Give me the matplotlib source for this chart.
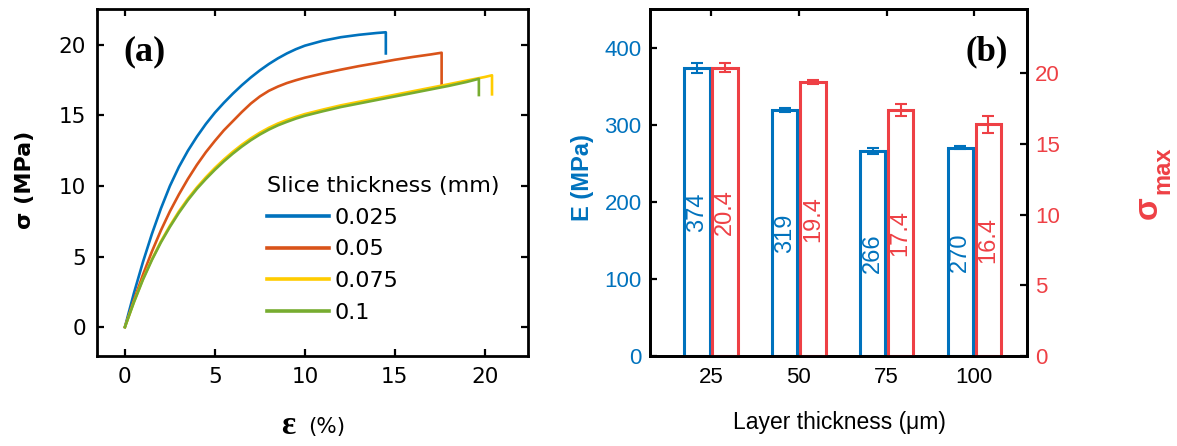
import matplotlib.pyplot as plt
import numpy as np

# (a) stress-strain curves
blue_x = [0, 0.5, 1.0, 1.5, 2.0, 2.5, 3.0, 3.5, 4.0, 4.5, 5.0, 5.5, 6.0, 6.5, 7.0, 7.5,
          8.0, 8.5, 9.0, 9.5, 10, 11, 12, 13, 14, 14.5, 14.5]
blue_y = [0, 2.4, 4.6, 6.6, 8.4, 10.0, 11.35, 12.5, 13.5, 14.4, 15.2, 15.9, 16.55, 17.15,
          17.7, 18.2, 18.65, 19.05, 19.4, 19.7, 19.95, 20.3, 20.55, 20.72, 20.85, 20.9, 19.4]
red_x = [0, 0.5, 1.0, 1.5, 2.0, 2.5, 3.0, 3.5, 4.0, 4.5, 5.0, 5.5, 6.0, 6.5, 7.0, 7.5,
         8.0, 8.5, 9.0, 9.5, 10, 11, 12, 13, 14, 15, 16, 17, 17.6, 17.6]
red_y = [0, 1.9, 3.7, 5.35, 6.85, 8.2, 9.4, 10.5, 11.5, 12.4, 13.2, 13.95, 14.6, 15.25,
         15.85, 16.35, 16.75, 17.05, 17.3, 17.5, 17.68, 17.98, 18.25, 18.5, 18.72, 18.95,
         19.15, 19.33, 19.45, 17.2]
yellow_x = [0, 0.5, 1.0, 1.5, 2.0, 2.5, 3.0, 3.5, 4.0, 4.5, 5.0, 5.5, 6.0, 6.5, 7.0, 7.5,
            8.0, 8.5, 9.0, 9.5, 10, 11, 12, 13, 14, 15, 16, 17, 18, 19, 20, 20.4, 20.4]
yellow_y = [0, 1.78, 3.4, 4.8, 6.07, 7.18, 8.2, 9.1, 9.9, 10.62, 11.28, 11.88, 12.43, 12.93,
            13.38, 13.78, 14.13, 14.43, 14.68, 14.9, 15.1, 15.42, 15.72, 15.97, 16.22, 16.47,
            16.72, 16.97, 17.22, 17.48, 17.73, 17.85, 16.5]
green_x = [0, 0.5, 1.0, 1.5, 2.0, 2.5, 3.0, 3.5, 4.0, 4.5, 5.0, 5.5, 6.0, 6.5, 7.0, 7.5,
           8.0, 8.5, 9.0, 9.5, 10, 11, 12, 13, 14, 15, 16, 17, 18, 19, 19.67, 19.67]
green_y = [0, 1.75, 3.35, 4.75, 6.0, 7.1, 8.1, 9.0, 9.8, 10.5, 11.15, 11.75, 12.3, 12.8,
           13.25, 13.65, 14.0, 14.3, 14.55, 14.78, 14.98, 15.3, 15.6, 15.85, 16.1, 16.35,
           16.6, 16.85, 17.1, 17.38, 17.6, 16.45]
slice_labels = ['0.025', '0.05', '0.075', '0.1']

# (b) modulus and max stress vs layer thickness
layers = [25, 50, 75, 100]
E_vals = [374, 319, 266, 270]
E_err = [6.5, 2, 4, 2]
S_vals = [20.4, 19.4, 17.4, 16.4]
S_err = [0.33, 0.15, 0.45, 0.6]

c_blue = '#0072BD'
c_orange = '#D95319'
c_yellow = '#FFCC00'
c_green = '#77AC30'
b_blue = '#0072BD'
b_red = '#EE4045'

W, H = 1177, 446
fig = plt.figure(figsize=(W / 100, H / 100), dpi=100)

ax1 = fig.add_axes([97 / W, 1 - 356 / H, (528 - 97) / W, (356 - 9) / H])
ax2 = fig.add_axes([650 / W, 1 - 356 / H, (1027 - 650) / W, (356 - 9) / H])

# ---- panel (a)
lw = 1.9
ax1.plot(blue_x, blue_y, color=c_blue, lw=lw, label=slice_labels[0])
ax1.plot(red_x, red_y, color=c_orange, lw=lw, label=slice_labels[1])
ax1.plot(yellow_x, yellow_y, color=c_yellow, lw=lw, label=slice_labels[2])
ax1.plot(green_x, green_y, color=c_green, lw=lw, label=slice_labels[3])
ax1.set_xlim(-1.55, 22.4)
ax1.set_ylim(-2.05, 22.55)
ax1.set_xticks([0, 5, 10, 15, 20])
ax1.set_yticks([0, 5, 10, 15, 20])
ax1.tick_params(direction='in', length=5, width=1.6, labelsize=15.5, pad=8,
                top=True, right=True)
for s in ax1.spines.values():
    s.set_linewidth(2)

leg = ax1.legend(title='Slice thickness (mm)', loc='upper left',
                 bbox_to_anchor=(0.394, 0.519), frameon=False, fontsize=16,
                 title_fontsize=16, alignment='left', borderpad=0,
                 handlelength=2.8, handletextpad=0.25, labelspacing=0.53,
                 borderaxespad=0)
for line in leg.get_lines():
    line.set_linewidth(2.6)

ax1.text(0.061, 0.876, '(a)', transform=ax1.transAxes, ha='left', va='center',
         fontsize=26, fontweight='bold', family='Liberation Serif')

fig.text(25 / W, 1 - 180 / H, 'σ (MPa)', rotation=90, ha='center', va='center',
         fontsize=16, fontweight='bold')
fig.text(288 / W, 1 - 426 / H, 'ε', ha='center', va='center', fontsize=24,
         fontweight='bold', family='Liberation Serif')
fig.text(327 / W, 1 - 427 / H, '(%)', ha='center', va='center', fontsize=15.5)

# ---- panel (b)
ax3 = ax2.twinx()
x = np.array(layers, dtype=float)
off = 4.0
bw = 7.2
ax2.bar(x - off, E_vals, width=bw, facecolor='white', edgecolor=b_blue,
        linewidth=2.2, zorder=2)
ax2.errorbar(x - off, E_vals, yerr=E_err, fmt='none', ecolor=b_blue,
             elinewidth=1.5, capsize=4, capthick=1.5, zorder=3)
ax3.bar(x + off, S_vals, width=bw, facecolor='white', edgecolor=b_red,
        linewidth=2.2, zorder=2)
ax3.errorbar(x + off, S_vals, yerr=S_err, fmt='none', ecolor=b_red,
             elinewidth=1.5, capsize=4, capthick=1.5, zorder=3)

for xi, v in zip(x, E_vals):
    ax2.text(xi - off, v / 2, f'{v}', rotation=90, ha='center', va='center',
             color=b_blue, fontsize=17, family='Liberation Sans')
for xi, v in zip(x, S_vals):
    ax3.text(xi + off, v / 2, f'{v}', rotation=90, ha='center', va='center',
             color=b_red, fontsize=17, family='Liberation Sans')

ax2.set_xlim(7.6, 115)
ax2.set_ylim(0, 450)
ax3.set_ylim(0, 24.55)
ax2.set_xticks(layers)
ax2.set_yticks([0, 100, 200, 300, 400])
ax3.set_yticks([0, 5, 10, 15, 20])
ax2.tick_params(axis='x', direction='in', length=5, width=1.6, labelsize=16,
                pad=8, top=True, labelfontfamily='Liberation Sans')
ax2.tick_params(axis='y', direction='in', length=5, width=1.6, labelsize=16,
                pad=6, labelcolor=b_blue, labelfontfamily='Liberation Sans')
ax3.tick_params(axis='y', direction='in', length=5, width=1.6, labelsize=16,
                pad=6, labelcolor=b_red, labelfontfamily='Liberation Sans')
for a in (ax2, ax3):
    for s in a.spines.values():
        s.set_linewidth(2)

ax2.text(0.95, 0.876, '(b)', transform=ax2.transAxes, ha='right', va='center',
         fontsize=25, fontweight='bold', family='Liberation Serif')

fig.text(583 / W, 1 - 178 / H, 'E (MPa)', rotation=90, ha='center', va='center',
         fontsize=17, fontweight='bold', color=b_blue, family='Liberation Sans')
fig.text(1148 / W, 1 - 208 / H, 'σ', rotation=90, ha='center', va='center',
         fontsize=24, fontweight='bold', color=b_red, family='Liberation Sans')
fig.text(1163 / W, 1 - 170 / H, 'max', rotation=90, ha='center', va='center',
         fontsize=17, fontweight='bold', color=b_red, family='Liberation Sans')
fig.text(839 / W, 1 - 422 / H, 'Layer thickness (\u03bcm)', ha='center',
         va='center', fontsize=16.5, family='Liberation Sans')

fig.savefig('out.png', dpi=100)
